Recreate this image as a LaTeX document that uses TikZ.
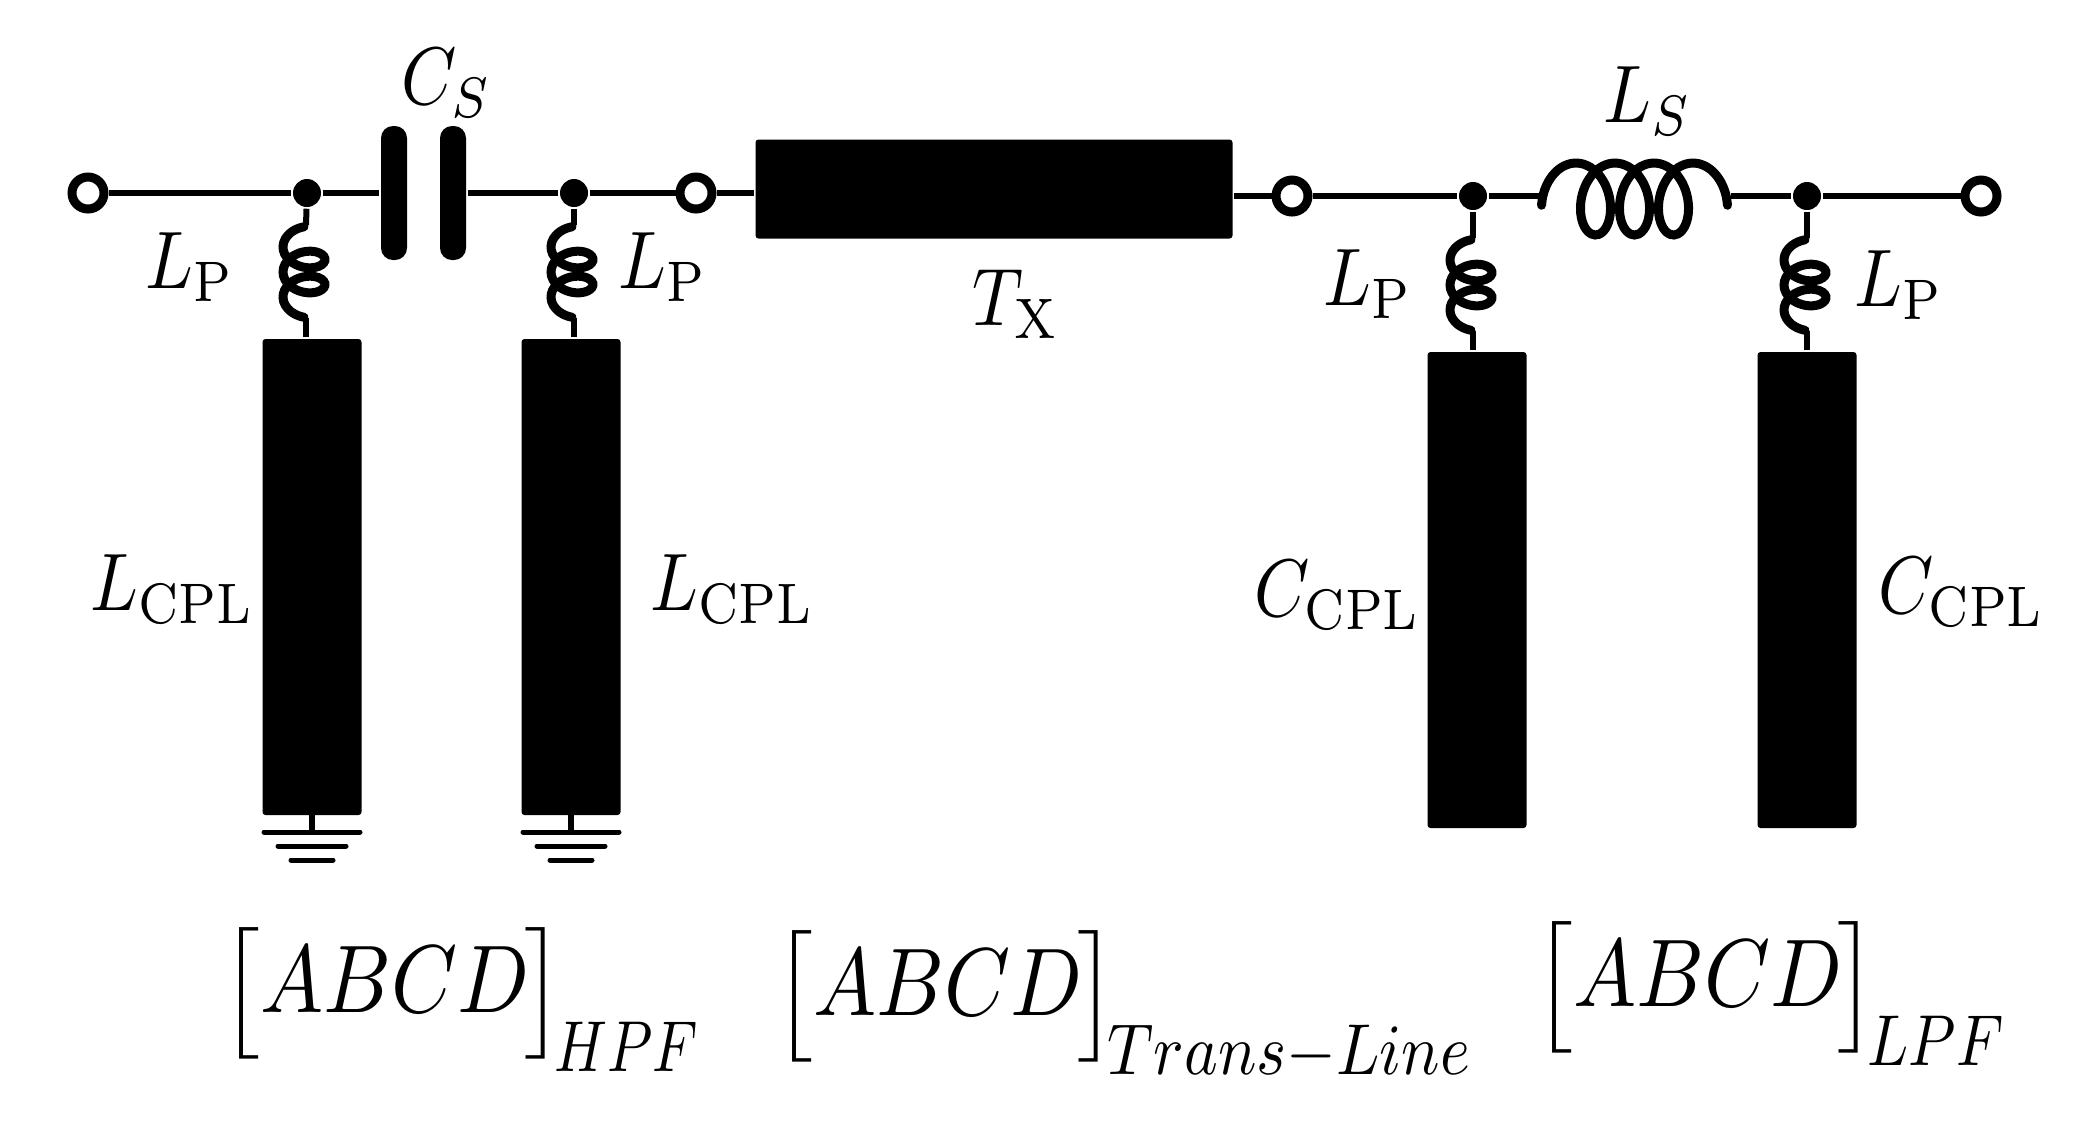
\documentclass[tikz,border=0pt]{standalone}
\usepackage{amsmath}
\usepackage{graphicx}
\usepackage{tikz}
\def\px{0.1164pt}
\newcommand{\brk}[1]{\scalebox{1}[.76]{$\Big#1$}}
\newcommand{\abcd}[2][.76]{$\brk{[}ABCD\kern-.6pt\brk{]}$\kern-1.2pt\raisebox{-6.2pt}{\scalebox{#1}[.75]{$#2$}}}
\newcommand{\coilLp}[2]{\draw[coil] plot[smooth, domain=-90:810, samples=73, variable=\t] ({#1-21*cos(\t)}, {#2+\t/360*25+14*sin(\t)});}
\newcommand{\coilLs}[2]{\draw[coil] plot[smooth, domain=-100:1180, samples=101, variable=\t] ({#1+\t/360*39+24*sin(\t)}, {#2-36*cos(\t)});}
\tikzset{
    wire/.style={line width=6*\px},
    coil/.style={line width=9*\px, line cap=round},
    term/.style={circle, draw, fill=white, line width=9*\px, minimum size=32*\px, inner sep=0pt},
    dot/.style={circle, fill=black, minimum size=28*\px, inner sep=0pt},
    plate/.style={fill=black, rounded corners=12*\px, minimum width=26*\px, minimum height=134*\px, inner sep=0pt},
    stub/.style={fill=black, rounded corners=3*\px, minimum width=99*\px, inner sep=0pt},
    lab/.style={inner sep=0pt, transform shape, xscale=.82, yscale=.95},
    mat/.style={inner sep=0pt, anchor=base west, transform shape, xscale=.98, yscale=1.12},
    gnd/.style={line width=5*\px, line cap=round}
}
\begin{document}
\begin{tikzpicture}[x=\px, y=-\px]
        \useasboundingbox (0,0) rectangle (2084,1124);
        \node[term] (t1) at (88,193) {};
        \node[dot] (d1) at (307,193) {};
        \node[plate] (cl) at (394,193) {};
        \node[plate] (cr) at (453,193) {};
        \node[dot] (d2) at (574,193) {};
        \node[term] (t2) at (696,193) {};
        \node[fill=black, rounded corners=3*\px, minimum width=477*\px, minimum height=99*\px, inner sep=0pt] (tx) at (994,189) {};
        \node[term] (t3) at (1292,196) {};
        \node[dot] (d3) at (1473,196) {};
        \node[dot] (d4) at (1807,196) {};
        \node[term] (t4) at (1981,196) {};
        \node[stub, minimum height=476*\px] (b1) at (312,577) {};
        \node[stub, minimum height=476*\px] (b2) at (571,577) {};
        \node[stub, minimum height=476*\px] (b3) at (1477,590) {};
        \node[stub, minimum height=476*\px] (b4) at (1807,590) {};
        \coordinate (ls1) at (1542,196);
        \coordinate (ls2) at (1731,196);
        \coordinate (p1t) at (306,225);
        \coordinate (p1b) at (306,318);
        \coordinate (p2t) at (574,225);
        \coordinate (p2b) at (574,318);
        \coordinate (p3t) at (1473,238);
        \coordinate (p3b) at (1473,331);
        \coordinate (p4t) at (1807,238);
        \coordinate (p4b) at (1807,331);
        \coordinate (g1) at (312,832);
        \coordinate (g2) at (571,832);
        \draw[wire] (t1) -- (d1) -- (cl);
        \draw[wire] (cr) -- (d2) -- (t2) -- (t2 -| tx.west);
        \draw[wire] (tx.east |- t3) -- (t3) -- (d3) -- (ls1);
        \draw[wire] (ls2) -- (d4) -- (t4);
        \draw[wire] (d1) -- (p1t);
        \draw[wire] (p1b) -- (p1b |- b1.north);
        \draw[wire] (d2) -- (p2t);
        \draw[wire] (p2b) -- (p2b |- b2.north);
        \draw[wire] (d3) -- (p3t);
        \draw[wire] (p3b) -- (p3b |- b3.north);
        \draw[wire] (d4) -- (p4t);
        \draw[wire] (p4b) -- (p4b |- b4.north);
        \coilLp{304}{247}
        \coilLp{572}{247}
        \coilLp{1471}{260}
        \coilLp{1805}{260}
        \coilLs{1576}{199}
        \foreach \g in {g1, g2} {
            \draw[wire] (\g) ++(0,-17) -- (\g);
            \draw[gnd] (\g) ++(-48,0) -- ++(96,0);
            \draw[gnd] (\g) ++(-34,14) -- ++(68,0);
            \draw[gnd] (\g) ++(-21,28) -- ++(42,0);
        }
        \node[lab] (cs) at (447,83) {$C_S$};
        \node[lab] (ls) at (1648,101) {$L_S$};
        \node[lab] (lp1) at (190,267) {$L_{\mathrm{P}}$};
        \node[lab] (lp2) at (663,267) {$L_{\mathrm{P}}$};
        \node[lab] (lp3) at (1368,284) {$L_{\mathrm{P}}$};
        \node[lab] (lp4) at (1899,285) {$L_{\mathrm{P}}$};
        \node[lab] (txl) at (1016,304) {$T_{\mathrm{X}}$};
        \node[lab] (lc1) at (173,589) {$L_{\mathrm{CPL}}$};
        \node[lab] (lc2) at (733,589) {$L_{\mathrm{CPL}}$};
        \node[lab] (cc1) at (1338,595) {$C_{\mathrm{CPL}}$};
        \node[lab] (cc2) at (1962,592) {$C_{\mathrm{CPL}}$};
        \node[mat] (hpf) at (219,1012) {\abcd[.69]{HPF}};
        \node[mat] (tl) at (772,1015) {\abcd{Trans{-}Line}};
        \node[mat] (lpf) at (1532,1006) {\abcd[.72]{LPF}};
    \end{tikzpicture}
\end{document}
